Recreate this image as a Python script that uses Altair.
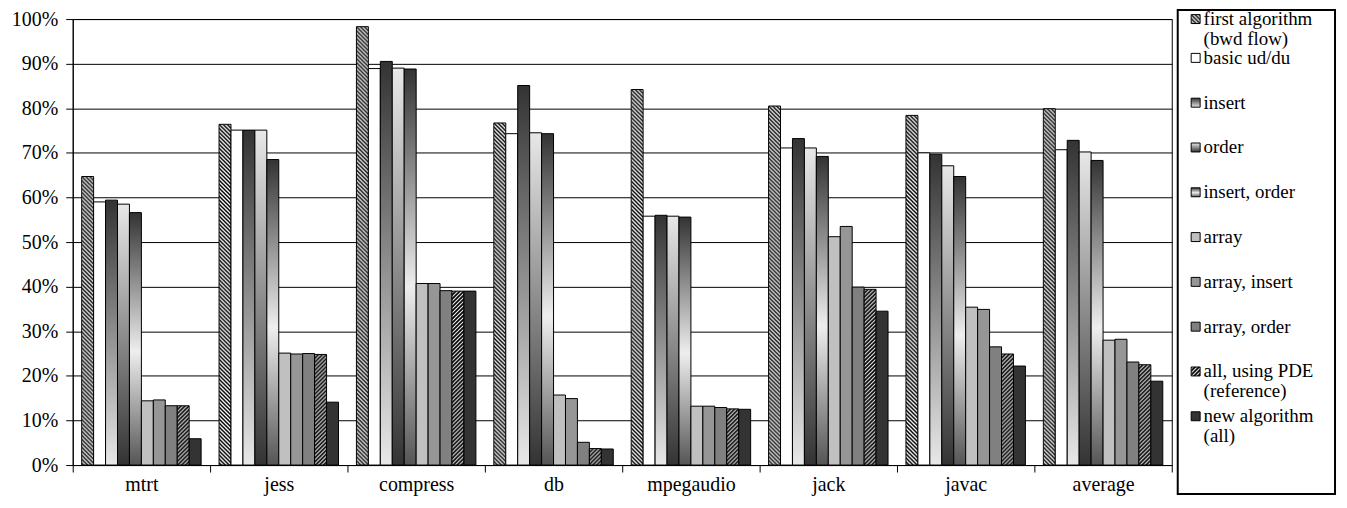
import base64
import altair as alt
import pandas as pd

# ---------------- data ----------------
categories = ["mtrt", "jess", "compress", "db", "mpegaudio", "jack", "javac", "average"]
series = [
    "first algorithm (bwd flow)", "basic ud/du", "insert", "order", "insert, order",
    "array", "array, insert", "array, order", "all, using PDE (reference)", "new algorithm (all)",
]
legend_labels = [
    "first algorithm\n(bwd flow)", "basic ud/du", "insert", "order", "insert, order",
    "array", "array, insert", "array, order", "all, using PDE\n(reference)", "new algorithm\n(all)",
]

first_algorithm = [64.7, 76.4, 98.3, 76.7, 84.2, 80.5, 78.4, 79.9]
basic_ud_du     = [59.0, 75.1, 88.9, 74.3, 55.8, 71.1, 70.0, 70.7]
insert          = [59.4, 75.1, 90.5, 85.1, 56.0, 73.2, 69.7, 72.8]
order           = [58.5, 75.1, 89.0, 74.5, 55.8, 71.1, 67.1, 70.2]
insert_order    = [56.6, 68.5, 88.8, 74.3, 55.6, 69.2, 64.7, 68.3]
array           = [14.4, 25.1, 40.7, 15.7, 13.2, 51.2, 35.4, 28.0]
array_insert    = [14.6, 24.9, 40.7, 14.9, 13.2, 53.5, 34.9, 28.2]
array_order     = [13.3, 25.0, 39.1, 5.1, 12.9, 39.9, 26.5, 23.1]
all_using_pde   = [13.3, 24.8, 39.0, 3.7, 12.6, 39.4, 24.9, 22.5]
new_algorithm   = [5.9, 14.1, 39.0, 3.6, 12.5, 34.5, 22.2, 18.8]

value_lists = [first_algorithm, basic_ud_du, insert, order, insert_order,
               array, array_insert, array_order, all_using_pde, new_algorithm]

rows = []
for s, vals in zip(series, value_lists):
    for c, v in zip(categories, vals):
        rows.append({"benchmark": c, "series": s, "value": v})
df = pd.DataFrame(rows)
leg_df = pd.DataFrame({"series": series, "label": legend_labels, "row": list(range(len(series)))})

# ---------------- styles ----------------
FONT = "Liberation Serif"


def hatch_url(direction, sw):
    if direction == "back":
        path = "M-1,-1 L5,5 M-1,3 L1,5 M3,-1 L5,1"
    else:
        path = "M-1,5 L5,-1 M-1,1 L1,-1 M3,5 L5,3"
    svg = ("<svg xmlns='http://www.w3.org/2000/svg'><defs>"
           "<pattern id='p' width='4' height='4' patternUnits='userSpaceOnUse'>"
           "<rect width='4' height='4' fill='white'/>"
           f"<path d='{path}' stroke='black' stroke-width='{sw}'/></pattern></defs>"
           "<rect width='100%' height='100%' fill='url(#p)'/></svg>")
    return "data:image/svg+xml;base64," + base64.b64encode(svg.encode()).decode()


def grad(stops):
    return alt.LinearGradient(
        gradient="linear", x1=0, x2=0, y1=0, y2=1,
        stops=[alt.GradientStop(color=c, offset=o) for o, c in stops],
    )


styles = {
    series[0]: ("hatch", hatch_url("back", 1.5)),
    series[1]: ("solid", "#ffffff"),
    series[2]: ("solid", grad([(0, "#333333"), (1, "#e8e8e8")])),
    series[3]: ("solid", grad([(0, "#e8e8e8"), (1, "#333333")])),
    series[4]: ("solid", grad([(0, "#333333"), (0.55, "#eeeeee"), (1, "#555555")])),
    series[5]: ("solid", "#c0c0c0"),
    series[6]: ("solid", "#969696"),
    series[7]: ("solid", "#808080"),
    series[8]: ("hatch", hatch_url("fwd", 1.8)),
    series[9]: ("solid", "#333333"),
}

# ---------------- bars ----------------
W, H = 1104, 448
x_enc = alt.X(
    "benchmark:N", sort=categories,
    scale=alt.Scale(paddingInner=0, paddingOuter=0),
    axis=alt.Axis(title=None, labelAngle=0, tickBand="extent", tickSize=7,
                  labelPadding=3, grid=False),
)
xo_enc = alt.XOffset("series:N", sort=series,
                     scale=alt.Scale(domain=series, paddingInner=0, paddingOuter=0.75))
y_enc = alt.Y(
    "value:Q", scale=alt.Scale(domain=[0, 100], nice=False),
    axis=alt.Axis(title=None, values=list(range(0, 101, 10)), labelExpr="datum.value + '%'",
                  grid=True, gridColor="#000000", gridWidth=1, tickSize=7, labelPadding=8),
)

base = alt.Chart(df).encode(x=x_enc, xOffset=xo_enc, y=y_enc)
bar_layers = []
for s in series:
    kind, sty = styles[s]
    f = base.transform_filter(alt.FieldEqualPredicate(field="series", equal=s))
    if kind == "hatch":
        bar_layers.append(f.mark_image(aspect=False).encode(y2=alt.datum(0), url=alt.value(sty)))
        bar_layers.append(f.mark_bar(fill="transparent", stroke="#000000", strokeWidth=1))
    else:
        bar_layers.append(f.mark_bar(fill=sty, stroke="#000000", strokeWidth=1))
bars = alt.layer(*bar_layers)

# ---------------- legend (drawn beside the plot) ----------------
SYM_X, TXT_X = 1128, 1136
leg_y = alt.Y("row:Q", axis=None,
              scale=alt.Scale(domain=[0, 9], range=[-6, 399], nice=False, zero=False))
leg_base = alt.Chart(leg_df).encode(y=leg_y)
leg_layers = []
for i, s in enumerate(series):
    kind, sty = styles[s]
    yo = 6 if i == 0 else 0
    f = leg_base.transform_filter(alt.FieldEqualPredicate(field="series", equal=s))
    if kind == "hatch":
        leg_layers.append(f.mark_image(width=9, height=9, aspect=False, yOffset=yo)
                          .encode(x=alt.value(SYM_X), url=alt.value(sty)))
        leg_layers.append(f.mark_square(size=81, fill="transparent", stroke="#000000",
                                        strokeWidth=1, opacity=1, yOffset=yo)
                          .encode(x=alt.value(SYM_X)))
    else:
        leg_layers.append(f.mark_square(size=81, fill=sty, stroke="#000000", strokeWidth=1,
                                        opacity=1, yOffset=yo).encode(x=alt.value(SYM_X)))
    leg_layers.append(
        f.mark_text(align="left", baseline="alphabetic", dy=6, lineBreak="\n", font=FONT,
                    fontSize=19, lineHeight=20, color="#000000", yOffset=yo)
        .encode(x=alt.value(TXT_X), text="label:N")
    )

box = alt.Chart(pd.DataFrame({"box": [0]})).mark_rect(
    fill="transparent", stroke="#000000", strokeWidth=2
).encode(x=alt.value(1110), x2=alt.value(1268), y=alt.value(-9), y2=alt.value(477))

legend = alt.layer(*leg_layers, box)

chart = alt.layer(bars, legend).resolve_scale(y="independent").properties(
    width=W, height=H,
    view=alt.ViewBackground(stroke="#000000", strokeWidth=1),
    autosize=alt.AutoSizeParams(type="none"),
    padding={"left": 65, "top": 10, "right": 168, "bottom": 34},
).configure(font=FONT).configure_axis(
    labelFont=FONT, labelFontSize=20, labelColor="#000000",
    domainColor="#000000", tickColor="#000000", domainWidth=1,
).configure_text(font=FONT)

chart.save("out.html", embed_options={"renderer": "svg", "actions": False})
